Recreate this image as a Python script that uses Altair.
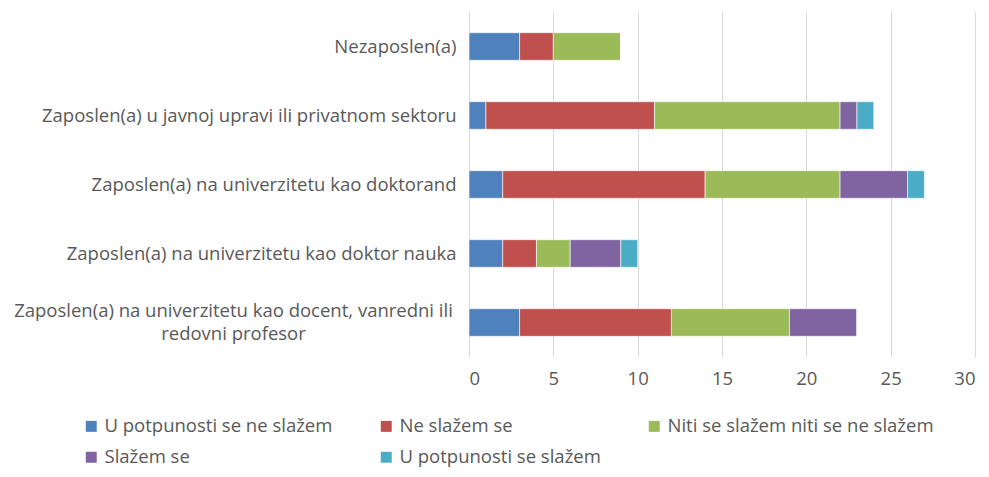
import altair as alt
import pandas as pd

categories = [
    "Nezaposlen(a)",
    "Zaposlen(a) u javnoj upravi ili privatnom sektoru",
    "Zaposlen(a) na univerzitetu kao doktorand",
    "Zaposlen(a) na univerzitetu kao doktor nauka",
    "Zaposlen(a) na univerzitetu kao docent, vanredni ili redovni profesor",
]
responses = [
    "U potpunosti se ne slažem",
    "Ne slažem se",
    "Niti se slažem niti se ne slažem",
    "Slažem se",
    "U potpunosti se slažem",
]
colors = ["#4F81BD", "#C0504D", "#9BBB59", "#8064A2", "#4BACC6"]

u_potpunosti_ne = [3, 1, 2, 2, 3]
ne_slazem = [2, 10, 12, 2, 9]
niti = [4, 11, 8, 2, 7]
slazem = [0, 1, 4, 3, 4]
u_potpunosti_da = [0, 1, 1, 1, 0]

series = [u_potpunosti_ne, ne_slazem, niti, slazem, u_potpunosti_da]

rows = []
for ri, (resp, vals) in enumerate(zip(responses, series)):
    for cat, v in zip(categories, vals):
        rows.append({"cat": cat, "resp": resp, "order": ri, "value": v})
df = pd.DataFrame(rows)

long_cat = categories[4]
label_expr = (f"datum.label == '{long_cat}'"
              " ? ['Zaposlen(a) na univerzitetu kao docent, vanredni ili', 'redovni profesor'] : datum.label")
is_long = f"datum.value == '{long_cat}'"

FONT = "Open Sans"
TXT = "#595959"
FS = 18.5

chart = alt.Chart(df).mark_bar(stroke="white", strokeWidth=0.6).encode(
    y=alt.Y("cat:N", sort=categories, title=None,
            scale=alt.Scale(paddingInner=0.6, paddingOuter=0.3),
            axis=alt.Axis(domain=False, ticks=False, grid=False, labelFontSize=FS,
                          labelColor=TXT, labelFont=FONT,
                          labelPadding=alt.expr(f"{is_long} ? 236 : 13"),
                          labelAlign=alt.expr(f"{is_long} ? 'center' : 'right'"),
                          labelLimit=600, labelExpr=label_expr, labelLineHeight=23,
                          labelOffset=alt.expr(f"{is_long} ? -11.5 : 0"))),
    x=alt.X("value:Q", stack="zero", title=None,
            scale=alt.Scale(domain=[0, 30], nice=False),
            axis=alt.Axis(values=[0, 5, 10, 15, 20, 25, 30], domain=False, ticks=False,
                          grid=True, gridColor="#d9d9d9", gridWidth=1,
                          labelFontSize=FS, labelColor=TXT, labelFont=FONT,
                          labelPadding=12)),
    color=alt.Color("resp:N", sort=responses,
                    scale=alt.Scale(domain=responses, range=colors),
                    legend=alt.Legend(title=None, orient="none", legendX=-387, legendY=405,
                                      columns=3, direction="horizontal",
                                      columnPadding=44, rowPadding=12,
                                      symbolType="square", symbolSize=120,
                                      symbolStrokeWidth=0, labelFontSize=FS,
                                      labelColor=TXT, labelFont=FONT, labelOffset=4,
                                      labelLimit=400)),
    order=alt.Order("order:Q"),
).properties(
    width=506, height=345,
    padding={"left": 461, "top": 4, "right": 6, "bottom": 112},
    autosize=alt.AutoSizeParams(type="none"),
).configure_view(stroke=None)

chart.save("out.html", embed_options={"renderer": "svg", "actions": False})
